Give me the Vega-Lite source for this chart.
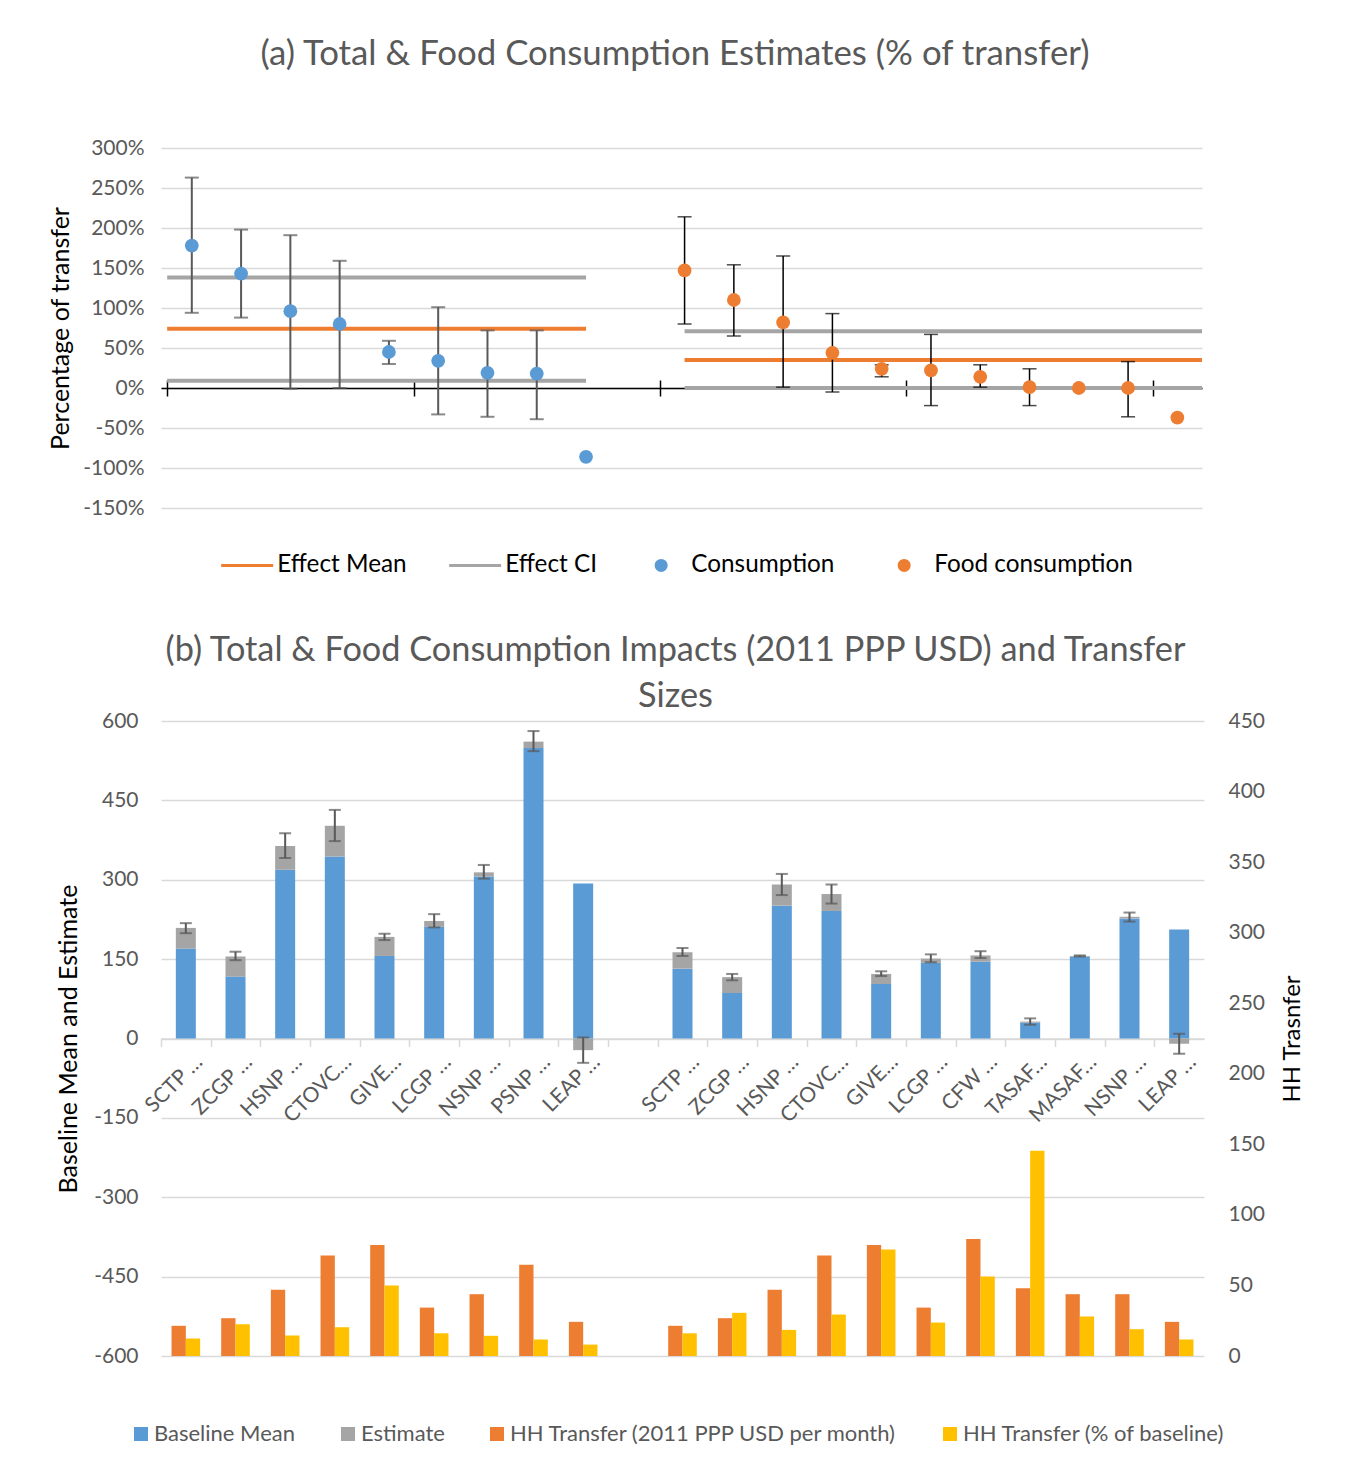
{
  "$schema": "https://vega.github.io/schema/vega-lite/v6.json",
  "background": "white",
  "padding": {"left": 48, "top": 37, "right": 5, "bottom": 5},
  "spacing": 55,
  "config": {
    "font": "Lato",
    "view": {"stroke": null},
    "axis": {"labelFont": "Lato", "titleFont": "Lato", "labelOverlap": false},
    "axisQuantitative": {"labelOverlap": false},
    "legend": {"labelFont": "Lato", "labelLimit": 600}
  },
  "resolve": {"legend": {"stroke": "independent", "fill": "independent", "color": "independent"}, "scale": {"color": "independent", "fill": "independent", "stroke": "independent"}},
  "datasets": {
    "lines": [
      {"grp": "Consumption", "line": "Effect CI", "x0": 0, "x1": 8.5, "v": 138},
      {"grp": "Consumption", "line": "Effect CI", "x0": 0, "x1": 8.5, "v": 9},
      {"grp": "Consumption", "line": "Effect Mean", "x0": 0, "x1": 8.5, "v": 74},
      {"grp": "Food consumption", "line": "Effect CI", "x0": 10.5, "x1": 21, "v": 71},
      {"grp": "Food consumption", "line": "Effect CI", "x0": 10.5, "x1": 21, "v": 0},
      {"grp": "Food consumption", "line": "Effect Mean", "x0": 10.5, "x1": 21, "v": 35}
    ],
    "points": [
      {"grp": "Consumption", "x": 0.5, "est": 178, "lo": 94, "hi": 263},
      {"grp": "Consumption", "x": 1.5, "est": 143, "lo": 88, "hi": 198},
      {"grp": "Consumption", "x": 2.5, "est": 96, "lo": -1, "hi": 191},
      {"grp": "Consumption", "x": 3.5, "est": 80, "lo": 0, "hi": 159},
      {"grp": "Consumption", "x": 4.5, "est": 45, "lo": 30, "hi": 59},
      {"grp": "Consumption", "x": 5.5, "est": 34, "lo": -33, "hi": 101},
      {"grp": "Consumption", "x": 6.5, "est": 19, "lo": -36, "hi": 72},
      {"grp": "Consumption", "x": 7.5, "est": 18, "lo": -39, "hi": 72},
      {"grp": "Consumption", "x": 8.5, "est": -86, "lo": null, "hi": null},
      {"grp": "Food consumption", "x": 10.5, "est": 147, "lo": 80, "hi": 214},
      {"grp": "Food consumption", "x": 11.5, "est": 110, "lo": 65, "hi": 154},
      {"grp": "Food consumption", "x": 12.5, "est": 82, "lo": 1, "hi": 165},
      {"grp": "Food consumption", "x": 13.5, "est": 44, "lo": -5, "hi": 93},
      {"grp": "Food consumption", "x": 14.5, "est": 24, "lo": 14, "hi": 29},
      {"grp": "Food consumption", "x": 15.5, "est": 22, "lo": -22, "hi": 67},
      {"grp": "Food consumption", "x": 16.5, "est": 14, "lo": 1, "hi": 29},
      {"grp": "Food consumption", "x": 17.5, "est": 1, "lo": -22, "hi": 24},
      {"grp": "Food consumption", "x": 18.5, "est": 0, "lo": null, "hi": null},
      {"grp": "Food consumption", "x": 19.5, "est": 0, "lo": -36, "hi": 33},
      {"grp": "Food consumption", "x": 20.5, "est": -37, "lo": null, "hi": null}
    ],
    "base": [
      {"key": "SCTP …|L", "series": "Baseline Mean", "value": 170}, {"key": "SCTP …|L", "series": "Estimate", "value": 39},
      {"key": "ZCGP …|L", "series": "Baseline Mean", "value": 117}, {"key": "ZCGP …|L", "series": "Estimate", "value": 38},
      {"key": "HSNP …|L", "series": "Baseline Mean", "value": 319}, {"key": "HSNP …|L", "series": "Estimate", "value": 45},
      {"key": "CTOVC…|L", "series": "Baseline Mean", "value": 344}, {"key": "CTOVC…|L", "series": "Estimate", "value": 58},
      {"key": "GIVE…|L", "series": "Baseline Mean", "value": 156}, {"key": "GIVE…|L", "series": "Estimate", "value": 36},
      {"key": "LCGP …|L", "series": "Baseline Mean", "value": 211}, {"key": "LCGP …|L", "series": "Estimate", "value": 11},
      {"key": "NSNP …|L", "series": "Baseline Mean", "value": 306}, {"key": "NSNP …|L", "series": "Estimate", "value": 8},
      {"key": "PSNP …|L", "series": "Baseline Mean", "value": 549}, {"key": "PSNP …|L", "series": "Estimate", "value": 12},
      {"key": "LEAP …|L", "series": "Baseline Mean", "value": 293}, {"key": "LEAP …|L", "series": "Estimate", "value": -22},
      {"key": "SCTP …|R", "series": "Baseline Mean", "value": 132}, {"key": "SCTP …|R", "series": "Estimate", "value": 31},
      {"key": "ZCGP …|R", "series": "Baseline Mean", "value": 86}, {"key": "ZCGP …|R", "series": "Estimate", "value": 30},
      {"key": "HSNP …|R", "series": "Baseline Mean", "value": 251}, {"key": "HSNP …|R", "series": "Estimate", "value": 40},
      {"key": "CTOVC…|R", "series": "Baseline Mean", "value": 241}, {"key": "CTOVC…|R", "series": "Estimate", "value": 32},
      {"key": "GIVE…|R", "series": "Baseline Mean", "value": 103}, {"key": "GIVE…|R", "series": "Estimate", "value": 19},
      {"key": "LCGP …|R", "series": "Baseline Mean", "value": 143}, {"key": "LCGP …|R", "series": "Estimate", "value": 8},
      {"key": "CFW …|R", "series": "Baseline Mean", "value": 145}, {"key": "CFW …|R", "series": "Estimate", "value": 12},
      {"key": "TASAF…|R", "series": "Baseline Mean", "value": 30}, {"key": "TASAF…|R", "series": "Estimate", "value": 2},
      {"key": "MASAF…|R", "series": "Baseline Mean", "value": 155}, {"key": "MASAF…|R", "series": "Estimate", "value": 1},
      {"key": "NSNP …|R", "series": "Baseline Mean", "value": 227}, {"key": "NSNP …|R", "series": "Estimate", "value": 3},
      {"key": "LEAP …|R", "series": "Baseline Mean", "value": 206}, {"key": "LEAP …|R", "series": "Estimate", "value": -10}
    ],
    "errs": [
      {"key": "SCTP …|L", "lo": 199, "hi": 218},
      {"key": "ZCGP …|L", "lo": 148, "hi": 164},
      {"key": "HSNP …|L", "lo": 341, "hi": 388},
      {"key": "CTOVC…|L", "lo": 373, "hi": 432},
      {"key": "GIVE…|L", "lo": 186, "hi": 198},
      {"key": "LCGP …|L", "lo": 210, "hi": 235},
      {"key": "NSNP …|L", "lo": 302, "hi": 328},
      {"key": "PSNP …|L", "lo": 543, "hi": 581},
      {"key": "LEAP …|L", "lo": -46, "hi": 2},
      {"key": "SCTP …|R", "lo": 156, "hi": 171},
      {"key": "ZCGP …|R", "lo": 110, "hi": 122},
      {"key": "HSNP …|R", "lo": 271, "hi": 311},
      {"key": "CTOVC…|R", "lo": 255, "hi": 291},
      {"key": "GIVE…|R", "lo": 118, "hi": 127},
      {"key": "LCGP …|R", "lo": 144, "hi": 159},
      {"key": "CFW …|R", "lo": 152, "hi": 165},
      {"key": "TASAF…|R", "lo": 26, "hi": 38},
      {"key": "MASAF…|R", "lo": 155, "hi": 157},
      {"key": "NSNP …|R", "lo": 221, "hi": 238},
      {"key": "LEAP …|R", "lo": -29, "hi": 9}
    ],
    "transfers": [
      {"key": "SCTP …|L", "series": "HH Transfer (2011 PPP USD per month)", "value": 21.4}, {"key": "SCTP …|L", "series": "HH Transfer (% of baseline)", "value": 12.4},
      {"key": "ZCGP …|L", "series": "HH Transfer (2011 PPP USD per month)", "value": 26.8}, {"key": "ZCGP …|L", "series": "HH Transfer (% of baseline)", "value": 22.5},
      {"key": "HSNP …|L", "series": "HH Transfer (2011 PPP USD per month)", "value": 46.9}, {"key": "HSNP …|L", "series": "HH Transfer (% of baseline)", "value": 14.5},
      {"key": "CTOVC…|L", "series": "HH Transfer (2011 PPP USD per month)", "value": 71.2}, {"key": "CTOVC…|L", "series": "HH Transfer (% of baseline)", "value": 20.4},
      {"key": "GIVE…|L", "series": "HH Transfer (2011 PPP USD per month)", "value": 78.7}, {"key": "GIVE…|L", "series": "HH Transfer (% of baseline)", "value": 49.9},
      {"key": "LCGP …|L", "series": "HH Transfer (2011 PPP USD per month)", "value": 34.3}, {"key": "LCGP …|L", "series": "HH Transfer (% of baseline)", "value": 16.1},
      {"key": "NSNP …|L", "series": "HH Transfer (2011 PPP USD per month)", "value": 43.8}, {"key": "NSNP …|L", "series": "HH Transfer (% of baseline)", "value": 14.3},
      {"key": "PSNP …|L", "series": "HH Transfer (2011 PPP USD per month)", "value": 64.6}, {"key": "PSNP …|L", "series": "HH Transfer (% of baseline)", "value": 11.7},
      {"key": "LEAP …|L", "series": "HH Transfer (2011 PPP USD per month)", "value": 24.2}, {"key": "LEAP …|L", "series": "HH Transfer (% of baseline)", "value": 8.1},
      {"key": "SCTP …|R", "series": "HH Transfer (2011 PPP USD per month)", "value": 21.4}, {"key": "SCTP …|R", "series": "HH Transfer (% of baseline)", "value": 16.1},
      {"key": "ZCGP …|R", "series": "HH Transfer (2011 PPP USD per month)", "value": 26.8}, {"key": "ZCGP …|R", "series": "HH Transfer (% of baseline)", "value": 30.6},
      {"key": "HSNP …|R", "series": "HH Transfer (2011 PPP USD per month)", "value": 46.9}, {"key": "HSNP …|R", "series": "HH Transfer (% of baseline)", "value": 18.5},
      {"key": "CTOVC…|R", "series": "HH Transfer (2011 PPP USD per month)", "value": 71.2}, {"key": "CTOVC…|R", "series": "HH Transfer (% of baseline)", "value": 29.4},
      {"key": "GIVE…|R", "series": "HH Transfer (2011 PPP USD per month)", "value": 78.7}, {"key": "GIVE…|R", "series": "HH Transfer (% of baseline)", "value": 75.4},
      {"key": "LCGP …|R", "series": "HH Transfer (2011 PPP USD per month)", "value": 34.3}, {"key": "LCGP …|R", "series": "HH Transfer (% of baseline)", "value": 23.7},
      {"key": "CFW …|R", "series": "HH Transfer (2011 PPP USD per month)", "value": 83}, {"key": "CFW …|R", "series": "HH Transfer (% of baseline)", "value": 56.3},
      {"key": "TASAF…|R", "series": "HH Transfer (2011 PPP USD per month)", "value": 48}, {"key": "TASAF…|R", "series": "HH Transfer (% of baseline)", "value": 145.5},
      {"key": "MASAF…|R", "series": "HH Transfer (2011 PPP USD per month)", "value": 43.8}, {"key": "MASAF…|R", "series": "HH Transfer (% of baseline)", "value": 28},
      {"key": "NSNP …|R", "series": "HH Transfer (2011 PPP USD per month)", "value": 43.8}, {"key": "NSNP …|R", "series": "HH Transfer (% of baseline)", "value": 19},
      {"key": "LEAP …|R", "series": "HH Transfer (2011 PPP USD per month)", "value": 24.2}, {"key": "LEAP …|R", "series": "HH Transfer (% of baseline)", "value": 11.7}
    ]
  },
  "vconcat": [
    {
      "width": 1041,
      "height": 360,
      "title": {"text": "(a) Total & Food Consumption Estimates (% of transfer)", "fontSize": 34.8, "fontWeight": "normal", "color": "#595959", "anchor": "middle", "frame": "group", "baseline": "bottom", "offset": 30, "dx": -6.5},
      "layer": [
        {
          "data": {"name": "lines"},
          "mark": {"type": "rule", "strokeWidth": 4},
          "encoding": {
            "x": {"field": "x0", "type": "quantitative", "title": null, "scale": {"domain": [-0.125, 21], "nice": false, "zero": false},
                  "axis": {"orient": "bottom", "offset": -120, "values": [0, 5, 10, 15, 20], "labels": false, "grid": false, "ticks": false, "domain": true, "domainColor": "black", "domainWidth": 1.5, "title": null}},
            "x2": {"field": "x1"},
            "y": {"field": "v", "type": "quantitative", "title": "Percentage of transfer", "scale": {"domain": [-150, 300], "nice": false},
                  "axis": {"values": [-150, -100, -50, 0, 50, 100, 150, 200, 250, 300], "labelExpr": "datum.value + '%'", "labelOverlap": false, "labelSeparation": 0, "domain": false, "ticks": false, "grid": true, "gridColor": "#D9D9D9", "gridWidth": 1.5, "labelColor": "#595959", "labelFontSize": 21, "labelPadding": 17, "titleFontSize": 25, "titleFontWeight": "normal", "titleColor": "black", "titlePadding": 9}},
            "stroke": {"field": "line", "type": "nominal", "scale": {"domain": ["Effect Mean", "Effect CI"], "range": ["#ED7D31", "#A5A5A5"]},
                       "legend": {"orient": "none", "legendX": 74, "legendY": 405, "direction": "horizontal", "title": null, "symbolType": "M-3,0H3", "symbolSize": 300, "symbolStrokeWidth": 3, "labelFontSize": 24.3, "labelColor": "black", "labelOffset": 18, "columnPadding": 36}}
          }
        },
        {
          "data": {"name": "points"},
          "transform": [{"filter": "datum.grp == 'Consumption' && datum.lo != null"}],
          "mark": {"type": "errorbar", "color": "#595959", "thickness": 2, "ticks": {"size": 14}},
          "encoding": {
            "x": {"field": "x", "type": "quantitative", "title": null, "axis": null},
            "y": {"field": "lo", "type": "quantitative", "title": "Percentage of transfer",
                  "axis": {"values": [-150, -100, -50, 0, 50, 100, 150, 200, 250, 300], "labelExpr": "datum.value + '%'", "labelOverlap": false, "labelSeparation": 0, "domain": false, "ticks": false, "grid": true, "gridColor": "#D9D9D9", "gridWidth": 1.5, "labelColor": "#595959", "labelFontSize": 21, "labelPadding": 17, "titleFontSize": 25, "titleFontWeight": "normal", "titleColor": "black", "titlePadding": 9}},
            "y2": {"field": "hi"}
          }
        },
        {
          "data": {"name": "points"},
          "transform": [{"filter": "datum.grp == 'Food consumption' && datum.lo != null"}],
          "mark": {"type": "errorbar", "color": "#000000", "thickness": 1.5, "ticks": {"size": 14}},
          "encoding": {
            "x": {"field": "x", "type": "quantitative", "title": null, "axis": null},
            "y": {"field": "lo", "type": "quantitative", "title": "Percentage of transfer",
                  "axis": {"values": [-150, -100, -50, 0, 50, 100, 150, 200, 250, 300], "labelExpr": "datum.value + '%'", "labelOverlap": false, "labelSeparation": 0, "domain": false, "ticks": false, "grid": true, "gridColor": "#D9D9D9", "gridWidth": 1.5, "labelColor": "#595959", "labelFontSize": 21, "labelPadding": 17, "titleFontSize": 25, "titleFontWeight": "normal", "titleColor": "black", "titlePadding": 9}},
            "y2": {"field": "hi"}
          }
        },
        {
          "data": {"name": "points"},
          "mark": {"type": "circle", "size": 190, "opacity": 1},
          "encoding": {
            "x": {"field": "x", "type": "quantitative", "title": null,
                  "axis": {"orient": "bottom", "offset": -128, "values": [0, 5, 10, 15, 20], "labels": false, "grid": false, "domain": false, "ticks": true, "tickColor": "black", "tickWidth": 1.5, "tickSize": 16, "title": null}},
            "y": {"field": "est", "type": "quantitative", "title": "Percentage of transfer",
                  "axis": {"values": [-150, -100, -50, 0, 50, 100, 150, 200, 250, 300], "labelExpr": "datum.value + '%'", "labelOverlap": false, "labelSeparation": 0, "domain": false, "ticks": false, "grid": true, "gridColor": "#D9D9D9", "gridWidth": 1.5, "labelColor": "#595959", "labelFontSize": 21, "labelPadding": 17, "titleFontSize": 25, "titleFontWeight": "normal", "titleColor": "black", "titlePadding": 9}},
            "fill": {"field": "grp", "type": "nominal", "scale": {"domain": ["Consumption", "Food consumption"], "range": ["#5B9BD5", "#ED7D31"]},
                     "legend": {"orient": "none", "legendX": 488, "legendY": 405, "direction": "horizontal", "title": null, "symbolType": "circle", "symbolSize": 170, "labelFontSize": 24.3, "labelColor": "black", "labelOffset": 18, "columnPadding": 57}}
          }
        }
      ],
      "resolve": {"axis": {"x": "independent"}}
    },
    {
      "width": 1043,
      "height": 635,
      "title": {"text": ["(b) Total & Food Consumption Impacts (2011 PPP USD) and Transfer", "Sizes"], "fontSize": 34.3, "lineHeight": 46, "fontWeight": "normal", "color": "#595959", "anchor": "middle", "frame": "group", "baseline": "bottom", "offset": -38, "dx": -7},
      "layer": [
        {
          "data": {"name": "base"},
          "mark": {"type": "bar", "size": 20},
          "encoding": {
            "x": {"field": "key", "type": "nominal", "title": null, "sort": null,
                  "scale": {"domain": ["SCTP …|L", "ZCGP …|L", "HSNP …|L", "CTOVC…|L", "GIVE…|L", "LCGP …|L", "NSNP …|L", "PSNP …|L", "LEAP …|L", "|gap", "SCTP …|R", "ZCGP …|R", "HSNP …|R", "CTOVC…|R", "GIVE…|R", "LCGP …|R", "CFW …|R", "TASAF…|R", "MASAF…|R", "NSNP …|R", "LEAP …|R"], "paddingInner": 0.424, "paddingOuter": 0.212},
                  "axis": {"orient": "bottom", "offset": -317.5, "title": null, "labelExpr": "split(datum.value, '|')[0]", "labelAngle": -45, "labelAlign": "right", "labelBaseline": "middle", "labelFontSize": 21, "labelColor": "#595959", "labelPadding": 12, "labelOffset": 38, "tickOffset": -24.83, "tickSize": 8, "tickColor": "#D9D9D9", "tickWidth": 1.5, "domainColor": "#D9D9D9", "domainWidth": 1.5, "grid": false}},
            "y": {"field": "value", "type": "quantitative", "stack": "zero", "title": "Baseline Mean and Estimate", "scale": {"domain": [-600, 600], "nice": false},
                  "axis": {"values": [-600, -450, -300, -150, 0, 150, 300, 450, 600], "labelExpr": "'' + datum.value", "labelOverlap": false, "domain": false, "ticks": false, "grid": true, "gridColor": "#D9D9D9", "gridWidth": 1.5, "labelColor": "#595959", "labelFontSize": 21, "labelPadding": 23, "titleFontSize": 25, "titleFontWeight": "normal", "titleColor": "black", "titlePadding": 12}},
            "color": {"field": "series", "type": "nominal",
                      "scale": {"domain": ["Baseline Mean", "Estimate", "HH Transfer (2011 PPP USD per month)", "HH Transfer (% of baseline)"], "range": ["#5B9BD5", "#A5A5A5", "#ED7D31", "#FFC000"]},
                      "legend": {"orient": "none", "legendX": -31, "legendY": 702, "direction": "horizontal", "title": null, "symbolType": "square", "symbolSize": 196, "symbolStrokeWidth": 0, "labelFontSize": 22, "labelColor": "#595959", "labelOffset": 2, "columnPadding": 41}},
            "order": {"field": "series", "sort": "ascending"}
          }
        },
        {
          "data": {"name": "errs"},
          "mark": {"type": "errorbar", "color": "#595959", "thickness": 2, "ticks": {"size": 12}},
          "encoding": {
            "x": {"field": "key", "type": "nominal", "title": null},
            "y": {"field": "lo", "type": "quantitative", "title": "Baseline Mean and Estimate", "scale": {"domain": [-600, 600], "nice": false}, "axis": null},
            "y2": {"field": "hi"}
          }
        },
        {
          "data": {"name": "transfers"},
          "mark": {"type": "bar"},
          "encoding": {
            "x": {"field": "key", "type": "nominal", "title": null},
            "xOffset": {"field": "series", "type": "nominal", "sort": null, "scale": {"domain": ["HH Transfer (2011 PPP USD per month)", "HH Transfer (% of baseline)"], "paddingInner": 0, "paddingOuter": 0}},
            "y": {"field": "value", "type": "quantitative", "stack": null, "title": "HH Trasnfer", "scale": {"domain": [0, 450], "nice": false},
                  "axis": {"orient": "right", "values": [0, 50, 100, 150, 200, 250, 300, 350, 400, 450], "labelOverlap": false, "domain": false, "ticks": false, "grid": false, "labelColor": "#595959", "labelFontSize": 21, "labelPadding": 24, "titleFontSize": 24, "titleFontWeight": "normal", "titleColor": "black", "titlePadding": 16, "titleAngle": 270, "titleBaseline": "top"}},
            "color": {"field": "series", "type": "nominal"}
          }
        }
      ],
      "resolve": {"scale": {"y": "independent"}}
    }
  ]
}
